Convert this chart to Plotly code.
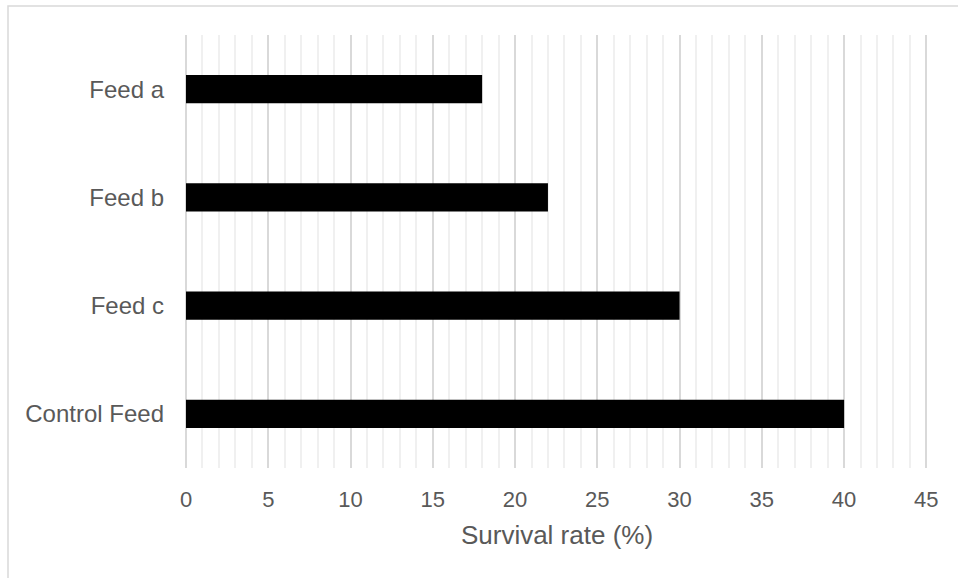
import plotly.graph_objects as go

# Survival rate by feed type
feeds = ["Feed a", "Feed b", "Feed c", "Control Feed"]
survival = [18, 22, 30, 40]

x_ticks = [0, 5, 10, 15, 20, 25, 30, 35, 40, 45]

text_color = "#595959"
font_family = "Liberation Sans, Arial, sans-serif"

fig = go.Figure(
    go.Bar(
        x=survival,
        y=feeds,
        orientation="h",
        marker=dict(color="#000000", line=dict(width=0)),
        width=0.26,
    )
)

fig.update_layout(
    width=958,
    height=578,
    margin=dict(l=186, r=30, t=35, b=110),
    paper_bgcolor="white",
    plot_bgcolor="white",
    showlegend=False,
    font=dict(family=font_family, color=text_color, size=22),
    xaxis=dict(
        range=[0, 45.1],
        tickvals=x_ticks,
        showgrid=True,
        gridcolor="#d9d9d9",
        gridwidth=1.5,
        minor=dict(dtick=1, tick0=0, showgrid=True, gridcolor="#f0f0f0", gridwidth=1.5),
        zeroline=True,
        zerolinecolor="#d9d9d9",
        zerolinewidth=1.5,
        showline=False,
        ticklabelstandoff=16,
        tickfont=dict(size=22, color=text_color),
        title=dict(text="Survival rate (%)", font=dict(size=26, color=text_color), standoff=14),
    ),
    yaxis=dict(
        categoryorder="array",
        categoryarray=feeds[::-1],
        range=[-0.5, 3.5],
        showgrid=False,
        zeroline=False,
        showline=False,
        ticklabelstandoff=21,
        tickfont=dict(size=24, color=text_color),
    ),
    shapes=[
        dict(
            type="rect",
            xref="paper",
            yref="paper",
            x0=(8 - 186) / 742,
            x1=(965 - 186) / 742,
            y0=(468 - 585) / 433,
            y1=(468 - 6) / 433,
            line=dict(color="#d9d9d9", width=1.5),
            fillcolor="rgba(0,0,0,0)",
            layer="below",
        )
    ],
)

fig.write_html("out.html")
